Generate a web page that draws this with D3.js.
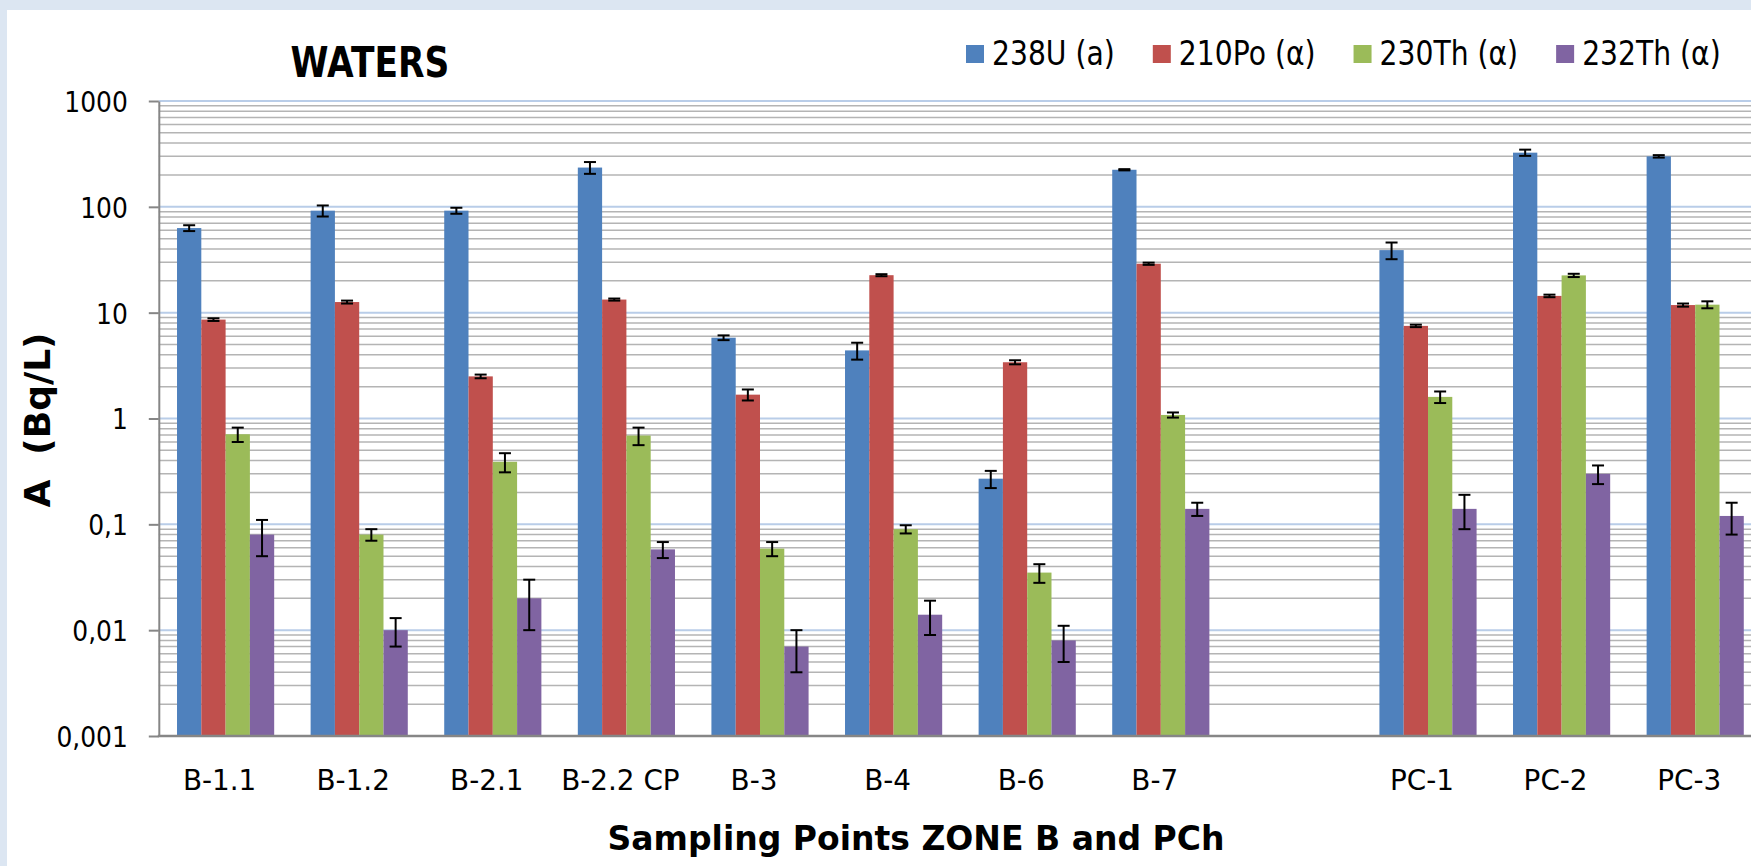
<!DOCTYPE html>
<html>
<head>
<meta charset="utf-8">
<script src="https://cdn.jsdelivr.net/npm/d3@7"></script>
<style>
  html, body { margin: 0; padding: 0; background: #dce6f2; overflow: hidden; }
  svg { display: block; }
  text { font-family: "DejaVu Sans", Verdana, sans-serif; fill: #000; }
</style>
</head>
<body>
<svg id="chart" width="1751" height="866"></svg>
<script>
// Sampling points (one empty slot separates zone B from the PCh points)
const categories = ["B-1.1", "B-1.2", "B-2.1", "B-2.2 CP", "B-3", "B-4", "B-6", "B-7", "", "PC-1", "PC-2", "PC-3"];
const seriesNames = ["238U (a)", "210Po (α)", "230Th (α)", "232Th (α)"];

// Activity concentrations, Bq/L, with their uncertainties
const u238     = [63, 92, 92, 235, 5.8, 4.4, 0.27, 224, null, 39, 325, 300];
const u238Err  = [4, 11, 6, 30, 0.3, 0.8, 0.05, 3, null, 7, 22, 8];
const po210    = [8.6, 12.6, 2.5, 13.3, 1.68, 22.6, 3.4, 29, null, 7.5, 14.4, 11.8];
const po210Err = [0.25, 0.4, 0.1, 0.3, 0.2, 0.5, 0.15, 0.7, null, 0.2, 0.4, 0.4];
const th230    = [0.71, 0.08, 0.39, 0.69, 0.059, 0.09, 0.035, 1.08, null, 1.6, 22.5, 11.9];
const th230Err = [0.11, 0.01, 0.08, 0.13, 0.009, 0.008, 0.007, 0.06, null, 0.2, 0.8, 0.9];
const th232    = [0.08, 0.01, 0.02, 0.058, 0.007, 0.014, 0.008, 0.14, null, 0.14, 0.30, 0.12];
const th232Err = [0.03, 0.003, 0.01, 0.01, 0.003, 0.005, 0.003, 0.02, null, 0.05, 0.06, 0.04];

const yTickValues = [0.001, 0.01, 0.1, 1, 10, 100, 1000];
const yTickLabels = ["0,001", "0,01", "0,1", "1", "10", "100", "1000"];

const seriesColors = ["#4f81bd", "#c0504d", "#9bbb59", "#8064a2"];
const seriesValues = [u238, po210, th230, th232];
const seriesErrors = [u238Err, po210Err, th230Err, th232Err];

const W = 1751, H = 866;
const plot = { left: 158.8, top: 101, bottom: 736, right: 1762 };

const svg = d3.select("#chart");

// white chart area inside the light frame
svg.append("rect").attr("x", 7).attr("y", 10).attr("width", W).attr("height", H).attr("fill", "#ffffff");

// narrow the glyph run of a text to k times its natural width
function squeeze(sel, k) {
  sel.each(function () {
    const len = this.getComputedTextLength();
    if (len > 0) d3.select(this).attr("textLength", len * k).attr("lengthAdjust", "spacingAndGlyphs");
  });
}

const x0 = d3.scaleBand()
  .domain(d3.range(categories.length))
  .range([plot.left, plot.right])
  .paddingInner(1.5 / 5.5)
  .paddingOuter(0.75 / 5.5);

const x1 = d3.scaleBand()
  .domain(d3.range(seriesNames.length))
  .range([0, x0.bandwidth()]);

const y = d3.scaleLog().domain([0.001, 1000]).range([plot.bottom, plot.top]);

// gridlines: minor decade subdivisions in grey, decades in light blue
const gridTicks = y.ticks();
const isDecade = v => Math.abs(Math.log10(v) - Math.round(Math.log10(v))) < 1e-9;
const grid = svg.append("g");
grid.selectAll("line.minor")
  .data(gridTicks.filter(v => !isDecade(v)))
  .join("line")
  .attr("class", "minor")
  .attr("x1", plot.left).attr("x2", W)
  .attr("y1", d => y(d)).attr("y2", d => y(d))
  .attr("stroke", "#b4b4b4").attr("stroke-width", 1.5);
grid.selectAll("line.major")
  .data(gridTicks.filter(v => isDecade(v) && v > 0.001))
  .join("line")
  .attr("class", "major")
  .attr("x1", plot.left).attr("x2", W)
  .attr("y1", d => y(d)).attr("y2", d => y(d))
  .attr("stroke", "#b9cde8").attr("stroke-width", 2);

// bars
const groups = svg.append("g").selectAll("g")
  .data(categories.map((c, i) => i))
  .join("g")
  .attr("transform", i => `translate(${x0(i)},0)`);

const cells = groups.selectAll("g.cell")
  .data(i => seriesValues.map((vals, s) => ({ s, v: vals[i], e: seriesErrors[s][i] })).filter(d => d.v != null))
  .join("g").attr("class", "cell");

cells.append("rect")
  .attr("x", d => x1(d.s))
  .attr("width", x1.bandwidth())
  .attr("y", d => y(d.v))
  .attr("height", d => y(0.001) - y(d.v))
  .attr("fill", d => seriesColors[d.s]);

// error bars
const capHalf = 6;
const cx = d => x1(d.s) + x1.bandwidth() / 2;
const hi = d => y(d.v + d.e);
const lo = d => y(Math.max(d.v - d.e, 0.001));
const eb = cells.append("g").attr("stroke", "#000").attr("stroke-width", 2);
eb.append("line").attr("x1", cx).attr("x2", cx).attr("y1", hi).attr("y2", lo);
eb.append("line").attr("x1", d => cx(d) - capHalf).attr("x2", d => cx(d) + capHalf).attr("y1", hi).attr("y2", hi);
eb.append("line").attr("x1", d => cx(d) - capHalf).attr("x2", d => cx(d) + capHalf).attr("y1", lo).attr("y2", lo);

// y axis
const yAxis = svg.append("g")
  .attr("transform", `translate(${plot.left},0)`)
  .call(d3.axisLeft(y)
    .tickValues(yTickValues)
    .tickFormat((d, i) => yTickLabels[i])
    .tickSize(10)
    .tickSizeOuter(0)
    .tickPadding(21));
yAxis.select(".domain").attr("stroke", "#868686").attr("stroke-width", 2);
yAxis.selectAll(".tick line").attr("stroke", "#868686").attr("stroke-width", 2);
yAxis.selectAll(".tick text")
  .attr("font-size", 29).attr("font-family", "DejaVu Sans").attr("fill", "#000")
  .attr("dy", "0.36em")
  .call(squeeze, 0.86);

// x axis line and category labels
svg.append("line")
  .attr("x1", plot.left - 1).attr("x2", W)
  .attr("y1", plot.bottom).attr("y2", plot.bottom)
  .attr("stroke", "#868686").attr("stroke-width", 2.5);

svg.append("g").selectAll("text")
  .data(categories)
  .join("text")
  .attr("x", (d, i) => x0(i) + x0.bandwidth() / 2 - 6)
  .attr("y", 790)
  .attr("text-anchor", "middle")
  .attr("font-size", 29)
  .text(d => d)
  .call(squeeze, 0.96);

// titles
svg.append("text")
  .attr("x", 370).attr("y", 77)
  .attr("text-anchor", "middle")
  .attr("font-size", 42).attr("font-weight", "bold")
  .text("WATERS")
  .call(squeeze, 0.82);

svg.append("text")
  .attr("transform", "translate(50,420) rotate(-90)")
  .attr("text-anchor", "middle")
  .attr("font-size", 36).attr("font-weight", "bold")
  .style("white-space", "pre")
  .text("A  (Bq/L)");

svg.append("text")
  .attr("x", 916).attr("y", 850)
  .attr("text-anchor", "middle")
  .attr("font-size", 33).attr("font-weight", "bold")
  .text("Sampling Points ZONE B and PCh");

// legend
const legend = svg.append("g");
let lx = 966;
seriesNames.forEach((name, s) => {
  legend.append("rect")
    .attr("x", lx).attr("y", 45).attr("width", 18).attr("height", 18)
    .attr("fill", seriesColors[s]);
  const t = legend.append("text")
    .attr("x", lx + 26).attr("y", 65)
    .attr("font-size", 34)
    .text(name)
    .call(squeeze, 0.83);
  lx += 26 + +t.attr("textLength") + 38;
});
</script>
</body>
</html>
